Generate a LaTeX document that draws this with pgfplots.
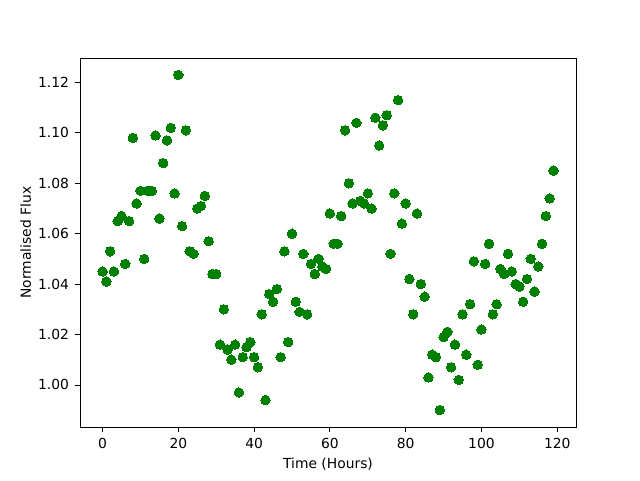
\documentclass[border=0pt]{standalone}
\usepackage{pgfplots}
\pgfplotsset{compat=1.18}
\usepackage{fontspec}
\setmainfont{DejaVu Sans}
\definecolor{mplgreen}{RGB}{0,128,0}
\begin{document}
\fontsize{10.4}{12}\selectfont
\begin{tikzpicture}
\begin{axis}[
  at={(0,0)}, anchor=south west,
  scale only axis, width=372pt, height=276.75pt,
  xmin=-5.95, xmax=124.95, ymin=0.9833, ymax=1.1297,
  xtick={0,20,40,60,80,100,120},
  ytick={1.00,1.02,1.04,1.06,1.08,1.10,1.12},
  yticklabel style={/pgf/number format/.cd, fixed, fixed zerofill, precision=2},
  /pgf/number format/assume math mode=true,
  tick align=outside, tick pos=left,
  major tick length=3.65pt,
  every tick/.style={black, line width=0.6pt},
  axis line style={line width=0.6pt},
  tick label style={font=\fontsize{10.4}{12}\selectfont},
  label style={font=\fontsize{10.4}{12}\selectfont},
  xlabel={Time (Hours)}, ylabel={Normalised Flux},
  xticklabel shift=1pt, yticklabel shift=1pt,
  ylabel shift=-2pt,
]
\addplot[only marks, mark=*, mark size=3.55pt, color=mplgreen, mark options={fill=mplgreen, draw=mplgreen, line width=0pt}] coordinates {
(0,1.045)(1,1.041)(2,1.053)(3,1.045)(4,1.065)(5,1.067)(6,1.048)(7,1.065)(8,1.098)(9,1.072)
(10,1.077)(11,1.050)(12,1.077)(13,1.077)(14,1.099)(15,1.066)(16,1.088)(17,1.097)(18,1.102)(19,1.076)
(20,1.123)(21,1.063)(22,1.101)(23,1.053)(24,1.052)(25,1.070)(26,1.071)(27,1.075)(28,1.057)(29,1.044)
(30,1.044)(31,1.016)(32,1.030)(33,1.014)(34,1.010)(35,1.016)(36,0.997)(37,1.011)(38,1.015)(39,1.017)
(40,1.011)(41,1.007)(42,1.028)(43,0.994)(44,1.036)(45,1.033)(46,1.038)(47,1.011)(48,1.053)(49,1.017)
(50,1.060)(51,1.033)(52,1.029)(53,1.052)(54,1.028)(55,1.048)(56,1.044)(57,1.050)(58,1.047)(59,1.046)
(60,1.068)(61,1.056)(62,1.056)(63,1.067)(64,1.101)(65,1.080)(66,1.072)(67,1.104)(68,1.073)(69,1.072)
(70,1.076)(71,1.070)(72,1.106)(73,1.095)(74,1.103)(75,1.107)(76,1.052)(77,1.076)(78,1.113)(79,1.064)
(80,1.072)(81,1.042)(82,1.028)(83,1.068)(84,1.040)(85,1.035)(86,1.003)(87,1.012)(88,1.011)(89,0.990)
(90,1.019)(91,1.021)(92,1.007)(93,1.016)(94,1.002)(95,1.028)(96,1.012)(97,1.032)(98,1.049)(99,1.008)
(100,1.022)(101,1.048)(102,1.056)(103,1.028)(104,1.032)(105,1.046)(106,1.044)(107,1.052)(108,1.045)(109,1.040)
(110,1.039)(111,1.033)(112,1.042)(113,1.050)(114,1.037)(115,1.047)(116,1.056)(117,1.067)(118,1.074)(119,1.085)
};
\end{axis}
\path[use as bounding box] (-60pt,-39.75pt) rectangle (420pt,320.25pt);
\end{tikzpicture}
\end{document}
